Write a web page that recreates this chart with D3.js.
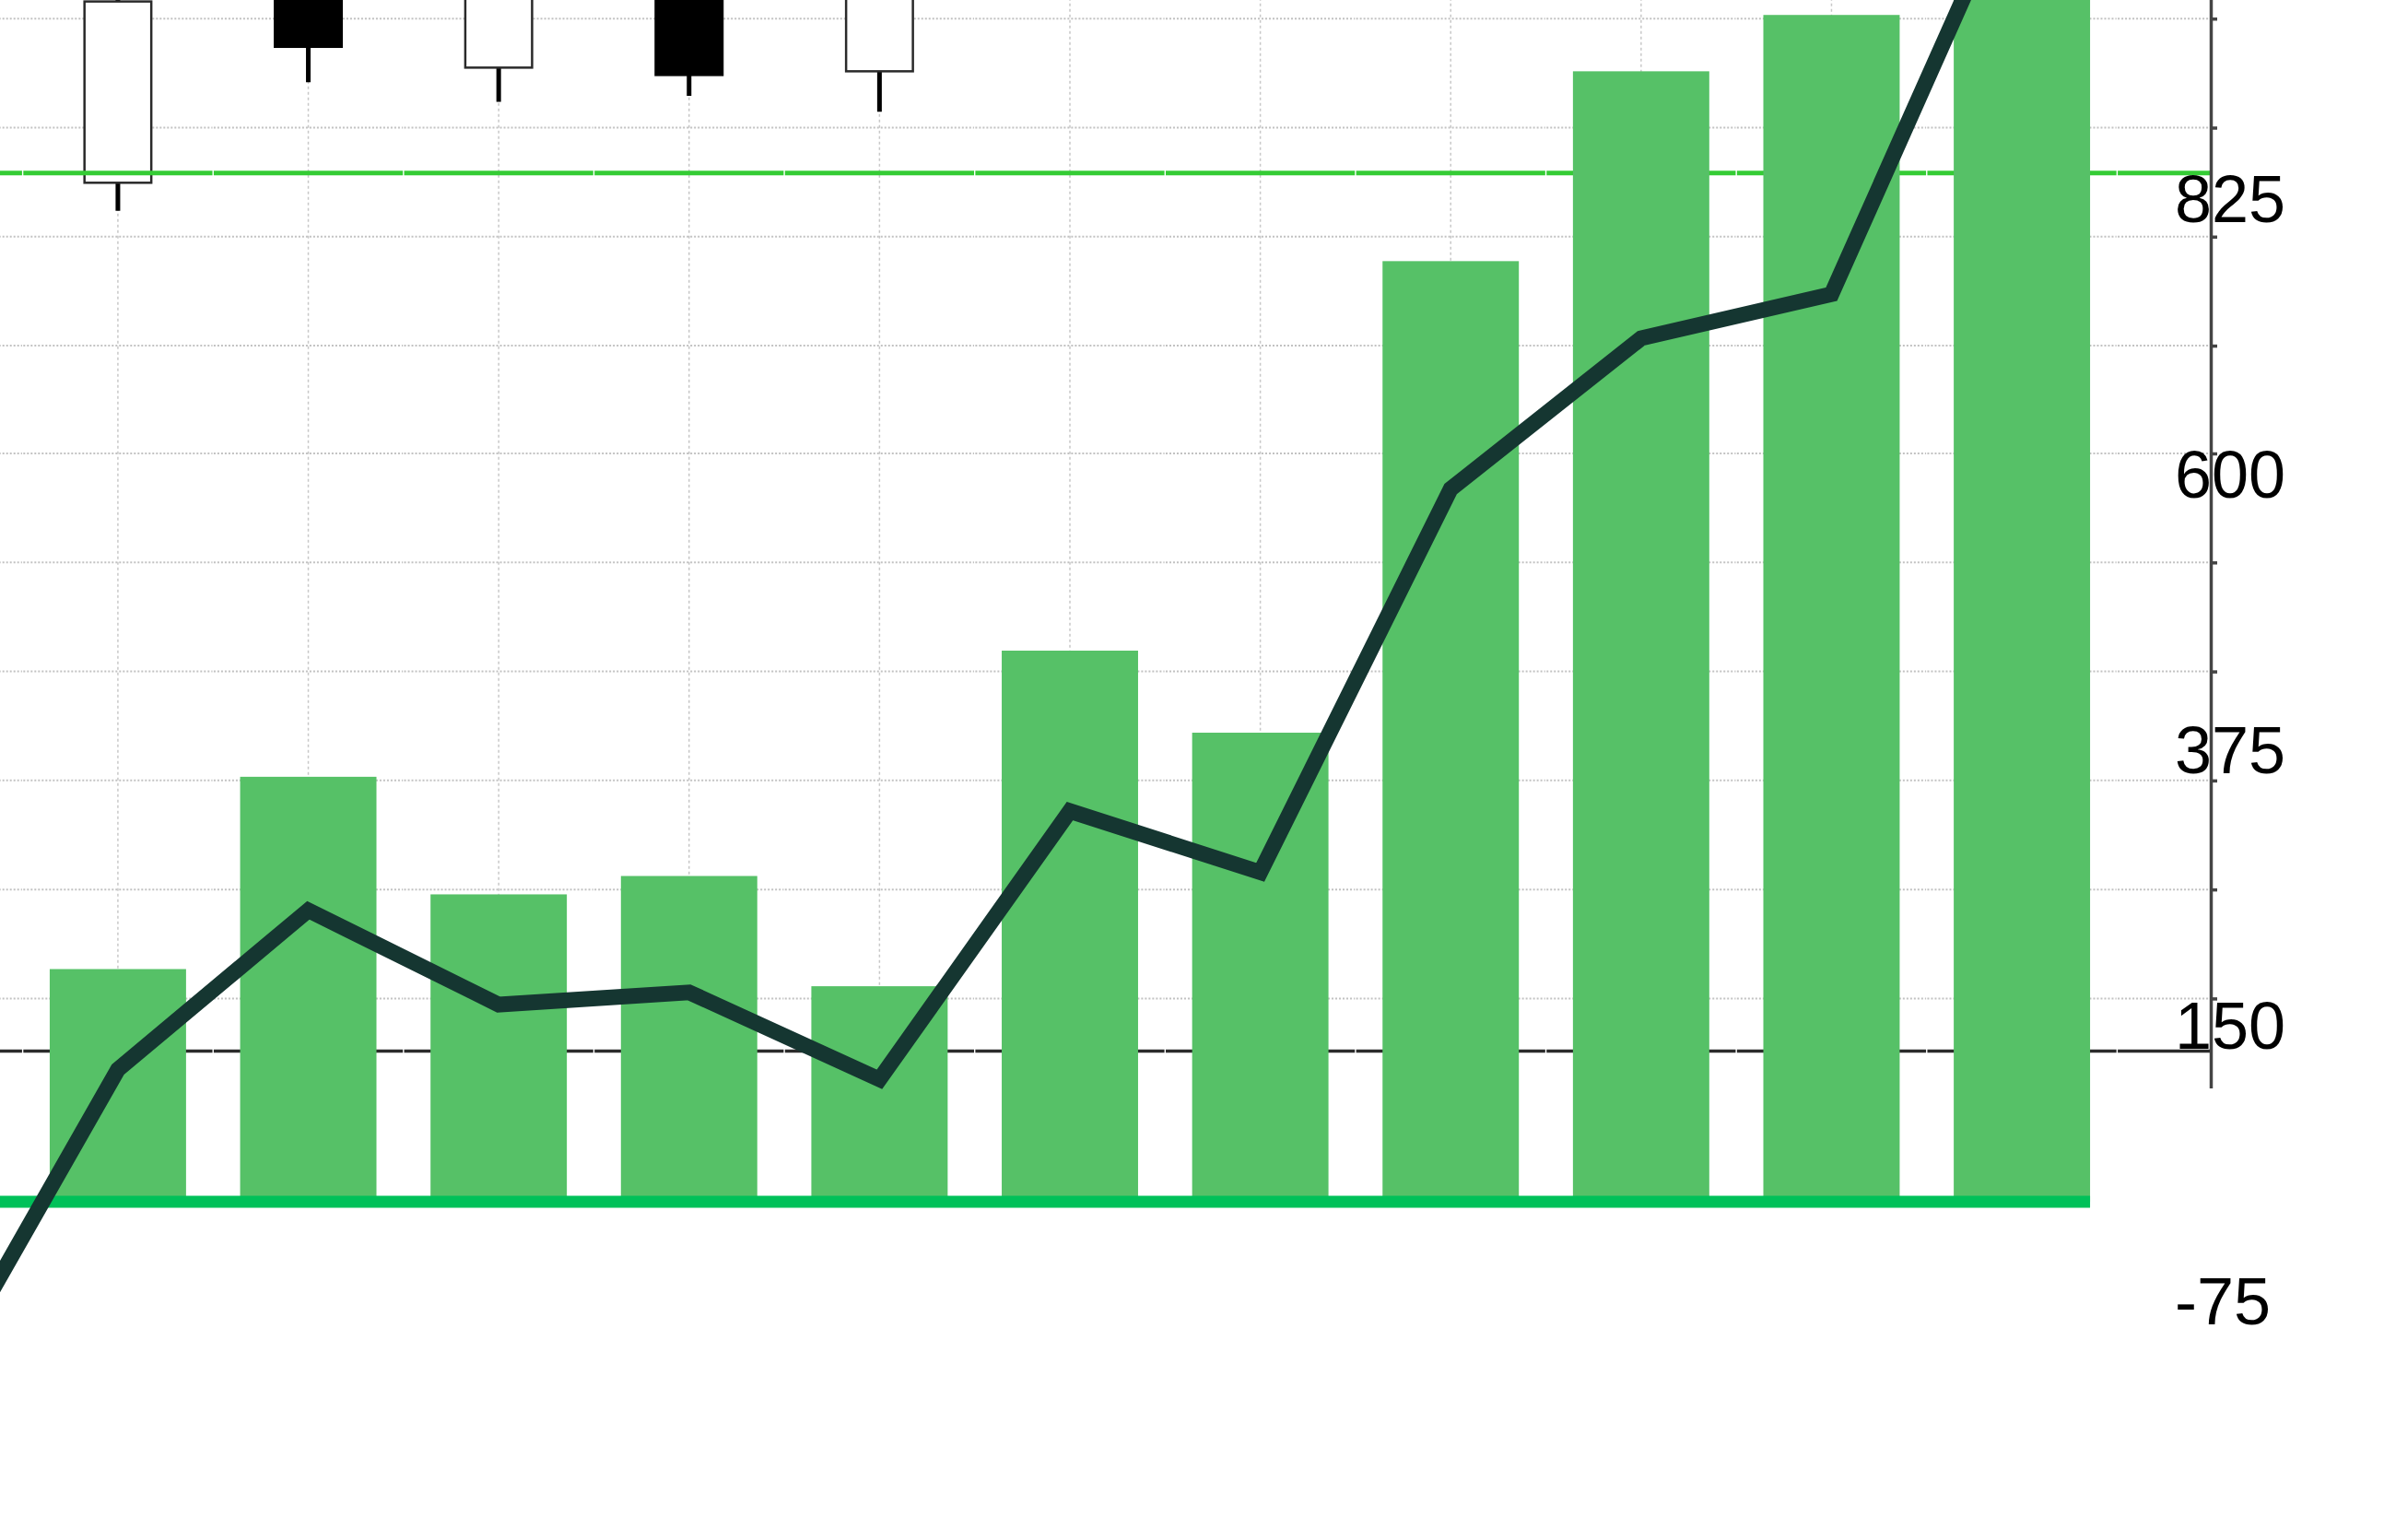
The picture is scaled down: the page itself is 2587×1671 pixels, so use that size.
<!DOCTYPE html>
<html lang="en">
<head>
	<meta charset="utf-8">
	<title>Bars, line and candles</title>
	<style>
		html, body { margin: 0; padding: 0; background: #fff; }
		svg { display: block; }
		.grid-h line { stroke: #c2c2c2; stroke-width: 2; stroke-dasharray: 2,2; }
		.grid-v line { stroke: #c8c8c8; stroke-width: 1.5; stroke-dasharray: 3,3; }
		.y-axis path, .y-axis line { stroke: #444; stroke-width: 3.5; }
		.y-label { font-family: "Liberation Sans", Arial, Helvetica, sans-serif; font-size: 72px; fill: #000; }
	</style>
	<script src="https://cdn.jsdelivr.net/npm/d3@7"></script>
</head>
<body>
	<div id="chart"></div>
	<script>

		// categories (first and last sit outside the visible window)
		const categories = ["P0", "P1", "P2", "P3", "P4", "P5", "P6", "P7", "P8", "P9", "P10", "P11", "P12"];

		// bar series
		const barValues = [null, 190, 347, 251, 266, 176, 450, 383, 768, 923, 969, 1040, null];

		// line series
		const lineValues = [-165, 108, 238, 161, 171, 100, 319, 269, 582, 705, 741, 1090, null];

		// candles
		const candleCategories = ["P1", "P2", "P3", "P4", "P5"];
		const candleOpen  = [832, 1010, 926, 1005, 923];
		const candleClose = [980, 943, 1000, 920, 1010];
		const candleHigh  = [1000, 1030, 1020, 1025, 1030];
		const candleLow   = [809, 914, 898, 903, 890];

		// reference lines
		const upperRefValue = 840;
		const lowerRefValue = 123;

		// axis ticks / grid and tick labels
		const gridTicks = [166, 255, 344, 433, 522, 611, 699, 788, 877, 966];
		const yLabels = [825, 600, 375, 150, -75];
		const axisBottomValue = 93, axisTopValue = 1150;

		const width = 2587, height = 1671;
		const axisX = 2399;

		const svg = d3.select("#chart")
			.append("svg")
			.attr("width", width)
			.attr("height", height);

		// scales
		const x = d3.scaleBand()
			.domain(categories)
			.range([-182, 2504])
			.paddingInner(0.284)
			.paddingOuter(0.142);

		const y = d3.scaleLinear()
			.domain([-75, 825])
			.range([1403.7, 207.6]);

		const bw = x.bandwidth();
		const halfGap = x.step() * x.paddingInner() / 2;

		// clip everything horizontal at the axis
		svg.append("defs").append("clipPath")
			.attr("id", "clip")
			.append("rect")
			.attr("x", -400)
			.attr("y", -400)
			.attr("width", axisX + 400)
			.attr("height", height + 800);

		const plot = svg.append("g").attr("clip-path", "url(#clip)");

		// segments of a horizontal line, one per category, with a tiny gap between
		function hSegments(g, value) {
			g.selectAll(null)
				.data(categories)
				.join("line")
				.attr("x1", c => x(c) - halfGap + 0.7)
				.attr("x2", c => x(c) + bw + halfGap - 0.7)
				.attr("y1", y(value))
				.attr("y2", y(value));
		}

		// horizontal gridlines
		const gridH = plot.append("g").attr("class", "grid-h");
		gridTicks.forEach(v => hSegments(gridH.append("g"), v));

		// vertical gridlines at category centres
		plot.append("g")
			.attr("class", "grid-v")
			.selectAll("line")
			.data(categories)
			.join("line")
			.attr("x1", c => x(c) + bw / 2)
			.attr("x2", c => x(c) + bw / 2)
			.attr("y1", y(axisTopValue))
			.attr("y2", y(axisBottomValue));

		// candles
		const candles = candleCategories.map((c, i) => ({
			cat: c, open: candleOpen[i], close: candleClose[i], high: candleHigh[i], low: candleLow[i]
		}));
		const candleW = bw * 0.49;
		const cg = plot.append("g").selectAll("g")
			.data(candles)
			.join("g");
		cg.append("line")
			.attr("x1", d => x(d.cat) + bw / 2)
			.attr("x2", d => x(d.cat) + bw / 2)
			.attr("y1", d => y(d.high))
			.attr("y2", d => y(d.low))
			.attr("stroke", "#000")
			.attr("stroke-width", 5);
		cg.append("rect")
			.attr("x", d => x(d.cat) + (bw - candleW) / 2)
			.attr("width", candleW)
			.attr("y", d => y(Math.max(d.open, d.close)))
			.attr("height", d => Math.abs(y(d.open) - y(d.close)))
			.attr("fill", d => d.close >= d.open ? "#fff" : "#000")
			.attr("stroke", d => d.close >= d.open ? "#2a2a2a" : "#000")
			.attr("stroke-width", 2.5);

		// reference lines
		hSegments(plot.append("g").attr("stroke", "#35cc35").attr("stroke-width", 5), upperRefValue);
		hSegments(plot.append("g").attr("stroke", "#2b2b2b").attr("stroke-width", 3.5), lowerRefValue);

		// bars
		plot.append("g")
			.selectAll("rect")
			.data(categories.map((c, i) => ({cat: c, value: barValues[i]})).filter(d => d.value != null))
			.join("rect")
			.attr("x", d => x(d.cat))
			.attr("width", bw)
			.attr("y", d => y(d.value))
			.attr("height", d => y(0) - y(d.value))
			.attr("fill", "#56c167");

		// baseline under the bars
		const lastBar = categories[barValues.length - 2];
		plot.append("line")
			.attr("x1", x(categories[0]))
			.attr("x2", x(lastBar) + bw)
			.attr("y1", y(0))
			.attr("y2", y(0))
			.attr("stroke", "#00c159")
			.attr("stroke-width", 13);

		// line series
		plot.append("path")
			.datum(categories.map((c, i) => ({cat: c, value: lineValues[i]})))
			.attr("fill", "none")
			.attr("stroke", "#153631")
			.attr("stroke-width", 17)
			.attr("stroke-linejoin", "miter")
			.attr("d", d3.line()
				.defined(d => d.value != null)
				.x(d => x(d.cat) + bw / 2)
				.y(d => y(d.value))
			);

		// tick labels
		svg.append("g")
			.selectAll("text")
			.data(yLabels)
			.join("text")
			.attr("class", "y-label")
			.attr("x", axisX - 39)
			.attr("y", d => y(d))
			.attr("dy", "0.46em")
			.text(d => d);

		// right axis
		const axisScale = d3.scaleLinear()
			.domain([axisBottomValue, axisTopValue])
			.range([y(axisBottomValue), y(axisTopValue)]);
		svg.append("g")
			.attr("class", "y-axis")
			.attr("transform", "translate(" + axisX + ",0)")
			.call(d3.axisRight(axisScale)
				.tickValues(gridTicks)
				.tickSize(7)
				.tickSizeOuter(0)
				.tickFormat(""));

	</script>
</body>
</html>
